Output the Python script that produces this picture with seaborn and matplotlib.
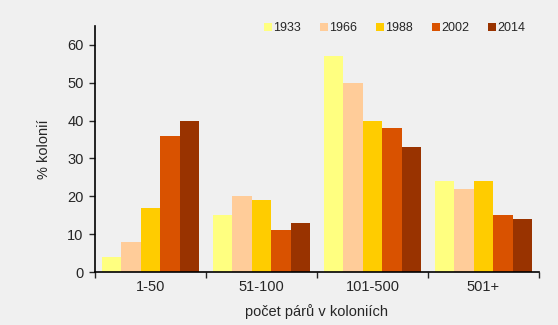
import pandas as pd
import matplotlib
matplotlib.use("Agg")
import matplotlib.pyplot as plt
import seaborn as sns

# Data
categories = ["1-50", "51-100", "101-500", "501+"]
years = ["1933", "1966", "1988", "2002", "2014"]
v1933 = [4, 15, 57, 24]
v1966 = [8, 20, 50, 22]
v1988 = [17, 19, 40, 24]
v2002 = [36, 11, 38, 15]
v2014 = [40, 13, 33, 14]
colors = ["#FFFF80", "#FFCC99", "#FFCC00", "#D95200", "#993300"]

rows = []
for yr, vals in zip(years, [v1933, v1966, v1988, v2002, v2014]):
    for cat, v in zip(categories, vals):
        rows.append({"kategorie": cat, "rok": yr, "pct": v})
df = pd.DataFrame(rows)

sns.set_style("ticks")
plt.rcParams["font.family"] = ["Liberation Sans", "DejaVu Sans"]
bg = "#F0F0F0"

fig = plt.figure(figsize=(5.58, 3.25), dpi=100, facecolor=bg)
ax = fig.add_axes([0.170, 0.163, 0.796, 0.757])
ax.set_facecolor(bg)

sns.barplot(data=df, x="kategorie", y="pct", hue="rok", order=categories,
            hue_order=years, palette=colors, saturation=1, width=0.875, gap=0,
            edgecolor="none", linewidth=0, ax=ax)

ax.set_ylim(0, 65)
ax.set_yticks(range(0, 61, 10))
ax.set_xlim(-0.5, 3.5)
ax.set_xticks([-0.5, 0.5, 1.5, 2.5, 3.5], minor=False)
ax.set_xticklabels([])
ax.set_xticks(range(4), minor=True)
ax.set_xticklabels(categories, minor=True)
ax.tick_params(axis="x", which="major", direction="out", length=4, width=1)
ax.tick_params(axis="x", which="minor", length=0, labelsize=10.5, pad=6)
ax.tick_params(axis="y", direction="out", length=4, width=1, labelsize=10.5, pad=4)
for s in ["top", "right"]:
    ax.spines[s].set_visible(False)
for s in ["left", "bottom"]:
    ax.spines[s].set_linewidth(1.2)
    ax.spines[s].set_color("black")

ax.set_ylabel("% kolonií", fontsize=10.5, labelpad=12)
ax.set_xlabel("počet párů v koloniích", fontsize=10.5, labelpad=7)

ax.legend(title=None, ncol=5, loc="upper right", bbox_to_anchor=(0.995, 1.06),
          frameon=False, fontsize=9, handlelength=0.6, handleheight=0.6,
          handletextpad=0.15, columnspacing=1.5)

fig.savefig("out.png", dpi=100, facecolor=bg)
